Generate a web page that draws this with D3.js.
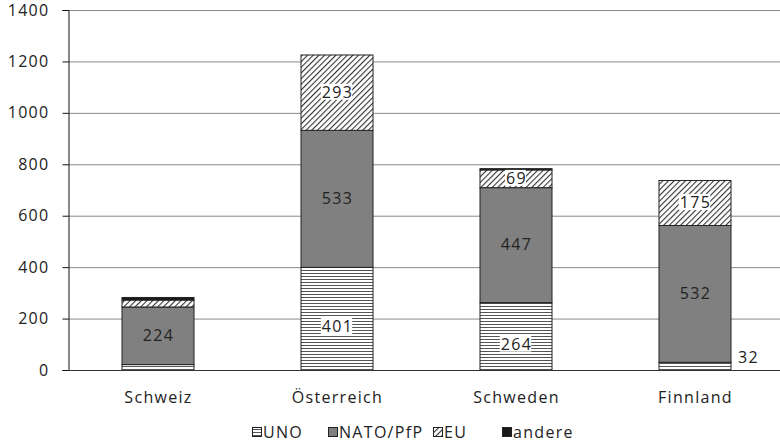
<!DOCTYPE html>
<html><head><meta charset="utf-8">
<script src="https://cdn.jsdelivr.net/npm/d3@7"></script>
<style>body{margin:0;background:#fff}svg{display:block}text{font-family:"Open Sans","Noto Sans",sans-serif;fill:#222;letter-spacing:1.3px}</style>
</head><body><svg id="c" width="780" height="444"></svg>
<script>
const categories = ["Schweiz","Österreich","Schweden","Finnland"];
const seriesNames = ["UNO","NATO/PfP","EU","andere"];
const uno = [23, 401, 264, 32];
const nato = [224, 533, 447, 532];
const eu = [27, 293, 69, 175];
const andere = [10, 0, 5, 0];
const yTicks = [0,200,400,600,800,1000,1200,1400];
const labelUno = [null, 401, 264, 32];
const labelNato = [224, 533, 447, 532];
const labelEu = [null, 293, 69, 175];

const svg = d3.select("#c");
const defs = svg.append("defs");
const pu = defs.append("pattern").attr("id","pUno").attr("patternUnits","userSpaceOnUse").attr("width",6).attr("height",3);
pu.append("rect").attr("width",6).attr("height",3).attr("fill","#fff");
pu.append("rect").attr("y",0).attr("width",6).attr("height",1).attr("fill","#555");
const pe = defs.append("pattern").attr("id","pEu").attr("patternUnits","userSpaceOnUse").attr("width",4).attr("height",4).attr("patternTransform","rotate(45)");
pe.append("rect").attr("width",4).attr("height",4).attr("fill","#fff");
pe.append("rect").attr("x",0).attr("width",1.1).attr("height",4).attr("fill","#333");
const fills = ["url(#pUno)","#808080","url(#pEu)","#1a1a1a"];

const x = d3.scaleBand().domain(categories).range([68,784]).paddingInner(0.6).paddingOuter(0.3);
const y = d3.scaleLinear().domain([0,1400]).range([370,10]);

// grid
svg.append("g").selectAll("line").data(yTicks.slice(1)).join("line")
  .attr("x1",68).attr("x2",780).attr("y1",d=>y(d)+0.5).attr("y2",d=>y(d)+0.5)
  .attr("stroke","#8a8a8a").attr("stroke-width",1);

const rows = categories.map((c,i)=>({c, v:[uno[i],nato[i],eu[i],andere[i]]}));
const stack = d3.stack().keys([0,1,2,3]).value((d,k)=>d.v[k])(rows);
const bw = 72;
const g = svg.append("g");
stack.forEach((s,k)=>{
  g.selectAll(null).data(s).join("rect")
   .filter(d=>d[1]>d[0])
   .attr("x",d=>x(d.data.c)+x.bandwidth()/2-bw/2+0.5)
   .attr("y",d=>y(d[1])+0.5)
   .attr("width",bw)
   .attr("height",d=>y(d[0])-y(d[1]))
   .attr("fill",fills[k]).attr("stroke","#222").attr("stroke-width",1);
});

// axes
const ya = svg.append("g").attr("transform","translate(68.5,0)")
  .call(d3.axisLeft(y).tickValues(yTicks).tickFormat(d3.format("d")).tickSize(6).tickPadding(13));
ya.select(".domain").attr("stroke","#111");
ya.selectAll(".tick line").attr("stroke","#111");
ya.selectAll("text").attr("font-size",16).attr("font-family","'Open Sans',sans-serif").attr("fill","#222");
svg.append("line").attr("x1",68).attr("x2",780).attr("y1",370.5).attr("y2",370.5).attr("stroke","#333");

svg.append("g").selectAll("text").data(categories).join("text")
  .attr("x",d=>x(d)+x.bandwidth()/2+1).attr("y",403).attr("text-anchor","middle").attr("font-size",16).text(d=>d);

// labels
function addLabel(cx, cy, t, bg){
  const lg = svg.append("g");
  const tx = lg.append("text").attr("x",cx).attr("y",cy).attr("text-anchor","middle").attr("dy","0.35em").attr("font-size",16).text(t);
  if(bg){
    const b = tx.node().getBBox();
    lg.insert("rect","text").attr("x",b.x-1).attr("y",b.y+3).attr("width",b.width).attr("height",b.height-6).attr("fill","#fff");
  }
}
categories.forEach((c,i)=>{
  const cx = x(c)+x.bandwidth()/2+1;
  const s0 = 0, s1 = uno[i], s2 = s1+nato[i], s3 = s2+eu[i];
  if(labelUno[i]!==null){
    if(i===3) addLabel(cx+bw/2+17, y(s1/2)-8, labelUno[i], false);
    else addLabel(cx, y((s0+s1)/2)+8, labelUno[i], true);
  }
  addLabel(cx, y((s1+s2)/2), labelNato[i], false);
  if(labelEu[i]!==null) addLabel(cx, y((s2+s3)/2), labelEu[i], true);
});

// legend
const lx = [252, 328, 433, 502];
const leg = svg.append("g");
seriesNames.forEach((n,k)=>{
  leg.append("rect").attr("x",lx[k]+0.5).attr("y",427.5).attr("width",9).attr("height",9).attr("fill",fills[k]).attr("stroke","#222");
  leg.append("text").attr("x",lx[k]+11).attr("y",437.5).attr("font-size",16).text(n);
});
</script></body></html>
